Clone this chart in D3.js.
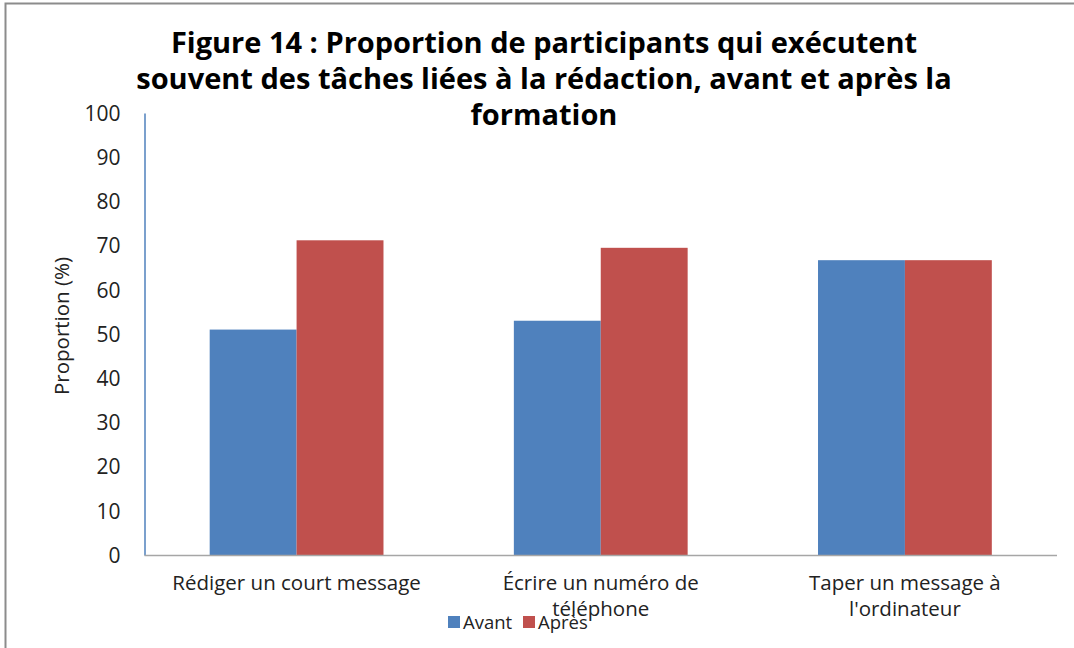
<!DOCTYPE html>
<html><head><meta charset="utf-8">
<script src="https://cdn.jsdelivr.net/npm/d3@7"></script>
<style>body{margin:0;background:#fff}svg{display:block}</style>
</head><body>
<svg id="c" width="1074" height="648"></svg>
<script>
const categories = [["Rédiger un court message"], ["Écrire un numéro de", "téléphone"], ["Taper un message à", "l'ordinateur"]];
const seriesNames = ["Avant", "Après"];
const avant = [51, 53, 66.7];
const apres = [71.2, 69.5, 66.7];
const yTicks = [0, 10, 20, 30, 40, 50, 60, 70, 80, 90, 100];
const titleLines = ["Figure 14 : Proportion de participants qui exécutent", "souvent des tâches liées à la rédaction, avant et après la", "formation"];
const colors = ["#4F81BD", "#C0504D"];

(function () {
const svg = d3.select("#c");
const font = "'Open Sans', Lato, sans-serif";

// outer frame
svg.append("rect").attr("x", 5.5).attr("y", 3.5).attr("width", 1100).attr("height", 700)
  .attr("fill", "none").attr("stroke", "#8c8c8c").attr("stroke-width", 2);

const pLeft = 144.5, pRight = 1057, pTop = 113, pBottom = 555;
const x0 = d3.scaleBand().domain(d3.range(categories.length)).range([pLeft, pRight]).paddingInner(0.4286).paddingOuter(0.2143);
const x1 = d3.scaleBand().domain(seriesNames).range([0, x0.bandwidth()]);
const y = d3.scaleLinear().domain([0, 100]).range([pBottom, pTop]);

// bars
const g = svg.append("g");
categories.forEach((c, i) => {
  [avant[i], apres[i]].forEach((v, k) => {
    g.append("rect")
      .attr("x", x0(i) + x1(seriesNames[k]))
      .attr("y", y(v))
      .attr("width", x1.bandwidth())
      .attr("height", y(0) - y(v))
      .attr("fill", colors[k]);
  });
});

// y axis
const yAxis = d3.axisLeft(y).tickValues(yTicks).tickSize(0).tickPadding(24);
const ya = svg.append("g").attr("transform", `translate(${pLeft},0)`).call(yAxis);
ya.select(".domain").attr("stroke", "#4F81BD").attr("stroke-width", 1.5);
ya.selectAll("text").attr("font-family", font).attr("font-size", 21).attr("fill", "#222").attr("dy", "0.35em");

// x baseline
svg.append("line").attr("x1", pLeft).attr("x2", pRight).attr("y1", pBottom + 0.5).attr("y2", pBottom + 0.5)
  .attr("stroke", "#a6a6a6").attr("stroke-width", 1.5);

// x labels
categories.forEach((lines, i) => {
  const cx = x0(i) + x0.bandwidth() / 2;
  const t = svg.append("text").attr("x", cx).attr("y", 590)
    .attr("text-anchor", "middle").attr("font-family", font).attr("font-size", 20.5).attr("fill", "#222");
  lines.forEach((l, j) => t.append("tspan").attr("x", cx).attr("dy", j ? 26 : 0).text(l));
});

// y label
svg.append("text").attr("transform", "translate(69,326) rotate(-90)").attr("text-anchor", "middle")
  .attr("font-family", font).attr("font-size", 20.5).attr("fill", "#222").text("Proportion (%)");

// title
titleLines.forEach((l, j) => {
  svg.append("text").attr("x", 544).attr("y", 53 + j * 36).attr("text-anchor", "middle")
    .attr("font-family", font).attr("font-weight", "bold").attr("font-size", 29).attr("fill", "#000").text(l);
});

// legend
const lx = [448, 523];
seriesNames.forEach((s, k) => {
  svg.append("rect").attr("x", lx[k]).attr("y", 616).attr("width", 12).attr("height", 12).attr("fill", colors[k]);
  svg.append("text").attr("x", lx[k] + 15).attr("y", 629).attr("font-family", font).attr("font-size", 18.5).attr("fill", "#222").text(s);
});
})();
</script>
</body></html>
